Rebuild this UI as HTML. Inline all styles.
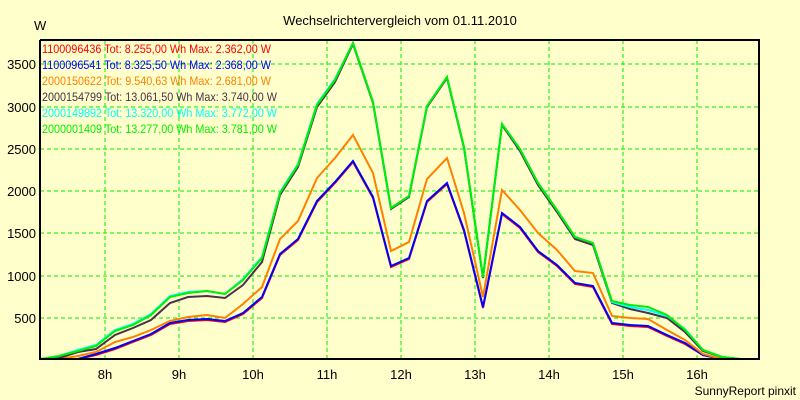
<!DOCTYPE html>
<html><head><meta charset="utf-8"><style>
html,body{margin:0;padding:0;background:#ffffcc;}
svg{display:block;font-family:"Liberation Sans",sans-serif;}
</style></head><body>
<svg width="800" height="400" viewBox="0 0 800 400" xmlns="http://www.w3.org/2000/svg">
<rect x="0" y="0" width="800" height="400" fill="#ffffcc"/>
<text x="400" y="25" font-size="13" text-anchor="middle" fill="#000">Wechselrichtervergleich vom 01.11.2010</text>
<text x="34" y="30" font-size="13" fill="#000">W</text>
<g stroke="#00ee00" stroke-width="1" stroke-dasharray="4,3" fill="none">
<line x1="40" y1="318" x2="759" y2="318"/><line x1="40" y1="276" x2="759" y2="276"/>
<line x1="40" y1="233" x2="759" y2="233"/><line x1="40" y1="191" x2="759" y2="191"/>
<line x1="40" y1="149" x2="759" y2="149"/><line x1="40" y1="107" x2="759" y2="107"/>
<line x1="40" y1="64" x2="759" y2="64"/>
<line x1="105" y1="40" x2="105" y2="359"/><line x1="179" y1="40" x2="179" y2="359"/>
<line x1="253" y1="40" x2="253" y2="359"/><line x1="327" y1="40" x2="327" y2="359"/>
<line x1="401" y1="40" x2="401" y2="359"/><line x1="475" y1="40" x2="475" y2="359"/>
<line x1="549" y1="40" x2="549" y2="359"/><line x1="623" y1="40" x2="623" y2="359"/>
<line x1="697" y1="40" x2="697" y2="359"/>
</g>
<g font-size="13" fill="#000" text-anchor="end">
<text x="36" y="323">500</text><text x="36" y="281">1000</text><text x="36" y="238">1500</text>
<text x="36" y="196">2000</text><text x="36" y="154">2500</text><text x="36" y="112">3000</text>
<text x="36" y="69">3500</text>
</g>
<g font-size="13" fill="#000" text-anchor="middle">
<text x="105" y="379">8h</text><text x="179" y="379">9h</text><text x="253" y="379">10h</text>
<text x="327" y="379">11h</text><text x="401" y="379">12h</text><text x="475" y="379">13h</text>
<text x="549" y="379">14h</text><text x="623" y="379">15h</text><text x="697" y="379">16h</text>
</g>
<text x="796" y="395" font-size="12" text-anchor="end" fill="#000">SunnyReport pinxit</text>
<g fill="none" stroke-width="2" stroke-linejoin="miter">
<polyline stroke="#ff0000" points="41,359 59,359 78,359 96,355 115,349 133,342 151,335 170,324 188,321 207,320 225,322 243,314 262,298 280,255 298,240 317,202 335,183 353,162 373,198 391,267 409,259 427,202 447,184 464,231 483,308 502,214 520,228 538,252 557,266 575,284 593,287 612,324 630,326 648,327 667,336 685,344 703,355 722,359 740,359 759,359"/>
<polyline stroke="#0000ff" points="41,359 59,359 78,359 96,354 115,348 133,341 151,334 170,323 188,320 207,319 225,321 243,313 262,297 280,254 298,239 317,201 335,182 353,161 373,197 391,266 409,258 427,201 447,183 464,230 483,307 502,213 520,227 538,251 557,265 575,283 593,286 612,323 630,325 648,326 667,335 685,343 703,355 722,359 740,359 759,359"/>
<polyline stroke="#ff8000" points="41,359 59,359 78,356 96,352 115,342 133,337 151,330 170,321 188,317 207,315 225,318 243,304 262,287 280,239 298,221 317,178 335,158 353,135 373,173 391,251 409,242 427,179 447,158 464,213 483,297 502,190 520,210 538,233 557,250 575,271 593,273 612,316 630,318 648,319 667,330 685,340 703,354 722,359 740,359 759,359"/>
<polyline stroke="#4a3048" points="41,359 59,358 78,352 96,349 115,335 133,328 151,320 170,303 188,297 207,296 225,298 243,285 262,262 280,195 298,167 317,107 335,82 353,44 373,103 391,209 409,197 427,107 447,78 464,148 483,278 502,125 520,151 538,185 557,212 575,239 593,245 612,303 630,309 648,313 667,318 685,332 703,351 722,357 740,359 759,359"/>
<polyline stroke="#00ffff" points="41,359 59,356 78,350 96,345 115,330 133,324 151,314 170,296 188,292 207,291 225,294 243,279 262,257 280,192 298,164 317,104 335,79 353,43 373,102 391,208 409,196 427,106 447,77 464,147 483,277 502,124 520,149 538,183 557,210 575,237 593,243 612,302 630,307 648,310 667,316 685,329 703,350 722,357 740,359 759,359"/>
<polyline stroke="#00ee00" points="41,359 59,356 78,351 96,346 115,331 133,325 151,315 170,297 188,293 207,291 225,294 243,280 262,258 280,193 298,165 317,105 335,80 353,43 373,102 391,208 409,196 427,106 447,77 464,147 483,277 502,124 520,149 538,183 557,210 575,237 593,243 612,301 630,305 648,307 667,315 685,330 703,350 722,357 740,359 759,359"/>
</g>
<g stroke="#000" stroke-width="2" fill="none">
<line x1="40" y1="40" x2="760" y2="40"/><line x1="40" y1="359" x2="760" y2="359"/>
<line x1="40" y1="40" x2="40" y2="360"/><line x1="759" y1="40" x2="759" y2="360"/>
</g>
<g font-size="12">
<text x="42" y="53" fill="#ff0000" textLength="229" lengthAdjust="spacingAndGlyphs">1100096436 Tot: 8.255,00 Wh Max: 2.362,00 W</text>
<text x="42" y="69" fill="#0000ff" textLength="229" lengthAdjust="spacingAndGlyphs">1100096541 Tot: 8.325,50 Wh Max: 2.368,00 W</text>
<text x="42" y="85" fill="#ff8000" textLength="229" lengthAdjust="spacingAndGlyphs">2000150622 Tot: 9.540,63 Wh Max: 2.681,00 W</text>
<text x="42" y="101" fill="#4a3048" textLength="235" lengthAdjust="spacingAndGlyphs">2000154799 Tot: 13.061,50 Wh Max: 3.740,00 W</text>
<text x="42" y="117" fill="#00ffff" textLength="235" lengthAdjust="spacingAndGlyphs">2000149892 Tot: 13.320,00 Wh Max: 3.772,00 W</text>
<text x="42" y="133" fill="#00ee00" textLength="235" lengthAdjust="spacingAndGlyphs">2000001409 Tot: 13.277,00 Wh Max: 3.781,00 W</text>
</g>
</svg>
</body></html>
